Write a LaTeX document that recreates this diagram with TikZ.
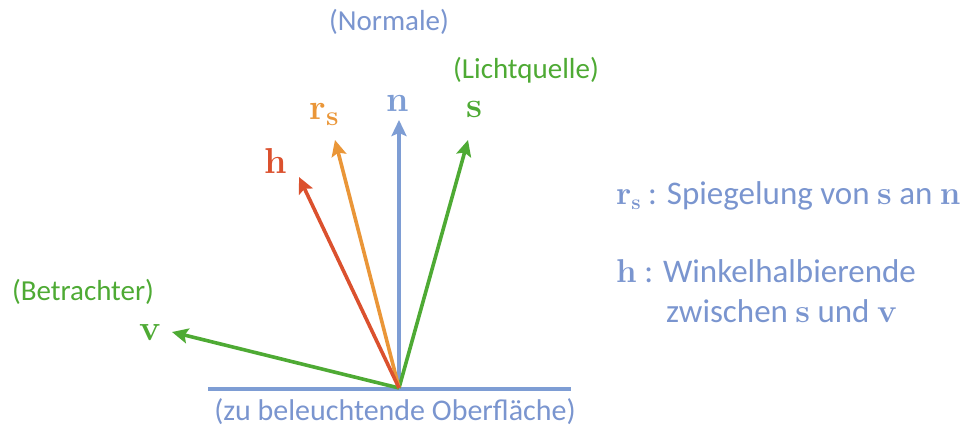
\documentclass[tikz,border=0pt]{standalone}
\usepackage{fontspec}
\setmainfont{Carlito}
\usetikzlibrary{arrows.meta}
\definecolor{cblue}{HTML}{7E9DD4}
\definecolor{tblue}{HTML}{7A95CF}
\definecolor{cgreen}{HTML}{4EAA34}
\definecolor{corange}{HTML}{EA9638}
\definecolor{cred}{HTML}{DB512E}
\newfontfamily\vecfont{Latin Modern Roman}
\newcommand{\vb}[1]{{\vecfont\bfseries #1}}
\tikzset{
  vec/.style={line width=3.6pt, -{Stealth[length=16pt,width=15pt,inset=3pt]}},
  lbl/.style={font=\fontsize{29}{33}\selectfont, inner sep=0pt},
  rlbl/.style={font=\fontsize{33}{37}\selectfont, inner sep=0pt},
  vlbl/.style={font=\fontsize{36}{40}\selectfont, inner sep=0pt}
}
\begin{document}
\begin{tikzpicture}[x=1pt,y=-1pt]
\useasboundingbox (0,0) rectangle (966,428);
\coordinate (O) at (399,388);
\coordinate (sl) at (208,389);
\coordinate (sr) at (571,389);
\coordinate (tn) at (399,120);
\coordinate (ts) at (468,140);
\coordinate (tr) at (335,140);
\coordinate (th) at (299,177);
\coordinate (tv) at (172,332);
\draw[cblue, line width=3.6pt] (sl) -- (sr);
\draw[vec, cblue] (O) -- (tn);
\draw[vec, cgreen] (O) -- (ts);
\draw[vec, cgreen] (O) -- (tv);
\draw[vec, corange] (O) -- (tr);
\draw[vec, cred] (O) -- (th);
\node[vlbl, text=cblue] (ln) at (398,103) {\vb{n}};
\node[vlbl, text=cgreen] (ls) at (474,109) {\vb{s}};
\node[vlbl, text=corange] (lr) at (324,114) {\vb{r}\raisebox{-6pt}{\fontsize{28}{30}\selectfont\vb{s}}};
\node[vlbl, text=cred] (lh) at (276,161) {\vb{h}};
\node[vlbl, text=cgreen] (lv) at (150,333) {\vb{v}};
\node[lbl, text=tblue] (normale) at (389,22) {(Normale)};
\node[lbl, text=cgreen] (licht) at (526,70) {(Lichtquelle)};
\node[lbl, text=cgreen] (betr) at (83,292) {(Betrachter)};
\node[lbl, text=tblue, font=\fontsize{30}{34}\selectfont] (surf) at (395,412) {(zu beleuchtende Oberfläche)};
\node[rlbl, text=tblue, anchor=west] (d1) at (616,196) {\vb{r}\raisebox{-5pt}{\fontsize{21}{23}\selectfont\vb{s}} : Spiegelung von \vb{s} an \vb{n}};
\node[rlbl, text=tblue, anchor=west] (d2) at (616,271) {\vb{h} : Winkelhalbierende};
\node[rlbl, text=tblue, anchor=west] (d3) at (666,311) {zwischen \vb{s} und \vb{v}};
\end{tikzpicture}
\end{document}
